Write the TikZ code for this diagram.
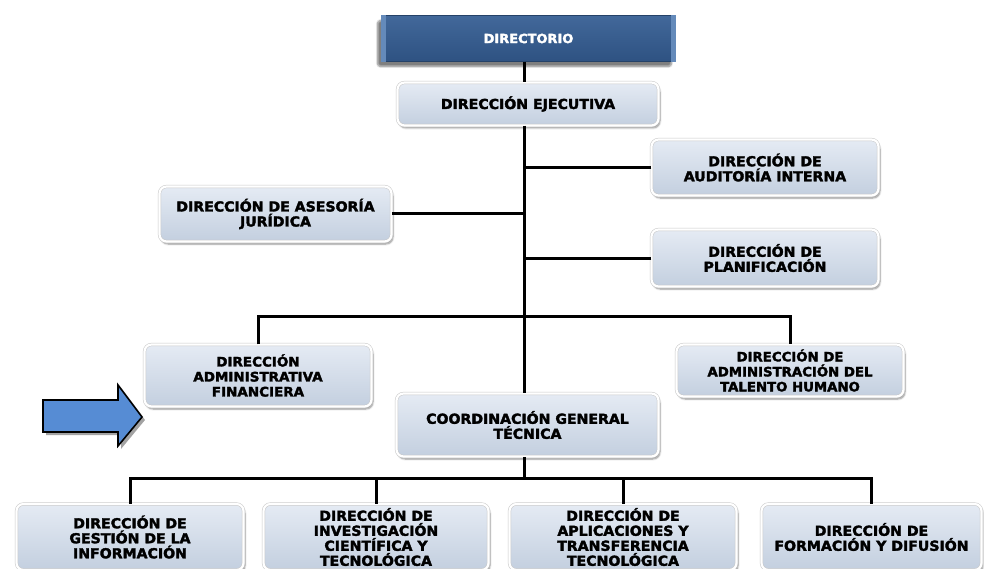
\documentclass[tikz,border=0pt]{standalone}
\usepackage{fontspec}
\usetikzlibrary{shadows,shadows.blur}
\newfontfamily\boxfont[FakeStretch=1.03,FakeBold=2.4]{DejaVu Sans}

\definecolor{boxtop}{RGB}{229,235,244}
\definecolor{boxbot}{RGB}{195,207,223}
\definecolor{dirtop}{RGB}{66,104,154}
\definecolor{dirbot}{RGB}{46,82,130}
\definecolor{dirbevel}{RGB}{100,138,186}
\definecolor{arrowblue}{RGB}{86,140,212}

\tikzset{
  unit/.style={rounded corners=7pt, draw=black!22, double=white,
    double distance=2.2pt, line width=0.5pt,
    top color=boxtop, bottom color=boxbot,
    blur shadow={shadow xshift=1.5pt, shadow yshift=-2.5pt,
      shadow opacity=45, shadow blur steps=6},
    align=center, inner sep=0pt,
    font=\boxfont\bfseries\fontsize{13.7}{15}\selectfont},
  headbox/.style={draw=dirbot!80!black, line width=0.4pt,
    top color=dirtop, bottom color=dirbot,
    blur shadow={shadow xshift=-4pt, shadow yshift=-5pt,
      shadow opacity=50, shadow blur steps=8, shadow blur extra rounding=3pt},
    inner sep=0pt},
  headtext/.style={text=white, font=\boxfont\bfseries\fontsize{12.6}{14}\selectfont},
  link/.style={line width=3pt, black},
}

\begin{document}
\begin{tikzpicture}[x=1pt, y=-1pt]
\useasboundingbox (0,0) rectangle (984,569);

% governing body
\node[headbox, minimum width=294pt, minimum height=46pt] (dir) at (528.5,38.5) {};
\fill[dirbevel] (dir.north west) -- ++(5,0) -- ([xshift=5pt]dir.south west) -- (dir.south west) -- cycle;
\fill[dirbevel] (dir.north east) -- ++(-5,0) -- ([xshift=-5pt]dir.south east) -- (dir.south east) -- cycle;
\node[headtext] (dirlabel) at (dir.center) {DIRECTORIO};

% directorates
\node[unit, minimum width=261pt, minimum height=43pt] (exe) at (528,104) {DIRECCIÓN EJECUTIVA};
\node[unit, minimum width=227pt, minimum height=56pt] (aud) at (765,167.5) {DIRECCIÓN DE\\AUDITORÍA INTERNA};
\node[unit, minimum width=232pt, minimum height=55pt] (ase) at (275.5,214) {DIRECCIÓN DE ASESORÍA\\JURÍDICA};
\node[unit, minimum width=227pt, minimum height=57pt] (pla) at (765,258) {DIRECCIÓN DE\\PLANIFICACIÓN};
\node[unit, minimum width=227pt, minimum height=62pt, font=\boxfont\bfseries\fontsize{13.1}{15}\selectfont] (adm) at (258,375.5) {DIRECCIÓN\\ADMINISTRATIVA\\FINANCIERA};
\node[unit, minimum width=227pt, minimum height=52pt, font=\boxfont\bfseries\fontsize{12.9}{15}\selectfont] (tal) at (790,370.5) {DIRECCIÓN DE\\ADMINISTRACIÓN DEL\\TALENTO HUMANO};
\node[unit, minimum width=262pt, minimum height=63pt] (cgt) at (527.5,425) {COORDINACIÓN GENERAL\\TÉCNICA};

\node[unit, minimum width=227pt, minimum height=66pt] (g1) at (130,537) {DIRECCIÓN DE\\GESTIÓN DE LA\\INFORMACIÓN};
\node[unit, minimum width=225pt, minimum height=66pt] (g2) at (376,537) {DIRECCIÓN DE\\INVESTIGACIÓN\\CIENTÍFICA Y\\TECNOLÓGICA};
\node[unit, minimum width=227pt, minimum height=66pt] (g3) at (623,537) {DIRECCIÓN DE\\APLICACIONES Y\\TRANSFERENCIA\\TECNOLÓGICA};
\node[unit, minimum width=220pt, minimum height=66pt] (g4) at (871.5,537) {DIRECCIÓN DE\\FORMACIÓN Y DIFUSIÓN};

% spine and junctions
\coordinate (sp) at (524,0);
\coordinate (bar1) at (524,316);
\coordinate (bar2) at (524,478);

\draw[link] (dir.south -| sp) -- (exe.north -| sp);
\draw[link] (exe.south -| sp) -- (cgt.north -| sp);
\draw[link] (cgt.south -| sp) -- (bar2);
\draw[link] (aud.west) -- (aud.west -| sp);
\draw[link] (pla.west) -- (pla.west -| sp);
\draw[link] (ase.east) -- (ase.east -| sp);
\draw[link] (adm.north) |- (bar1) -| (tal.north);
\draw[link] (g1.north) |- (bar2) -| (g4.north);
\draw[link] (g2.north) -- (g2.north |- bar2);
\draw[link] (g3.north) -- (g3.north |- bar2);

% pointer arrow
\draw[fill=arrowblue, line width=1.6pt, line join=miter,
  drop shadow={shadow xshift=3pt, shadow yshift=-3pt, fill=black!45, opacity=0.8}]
  (43,400) -- (118,400) -- (118,385) -- (142,417) -- (118,446) -- (118,432) -- (43,432) -- cycle;
\end{tikzpicture}
\end{document}
